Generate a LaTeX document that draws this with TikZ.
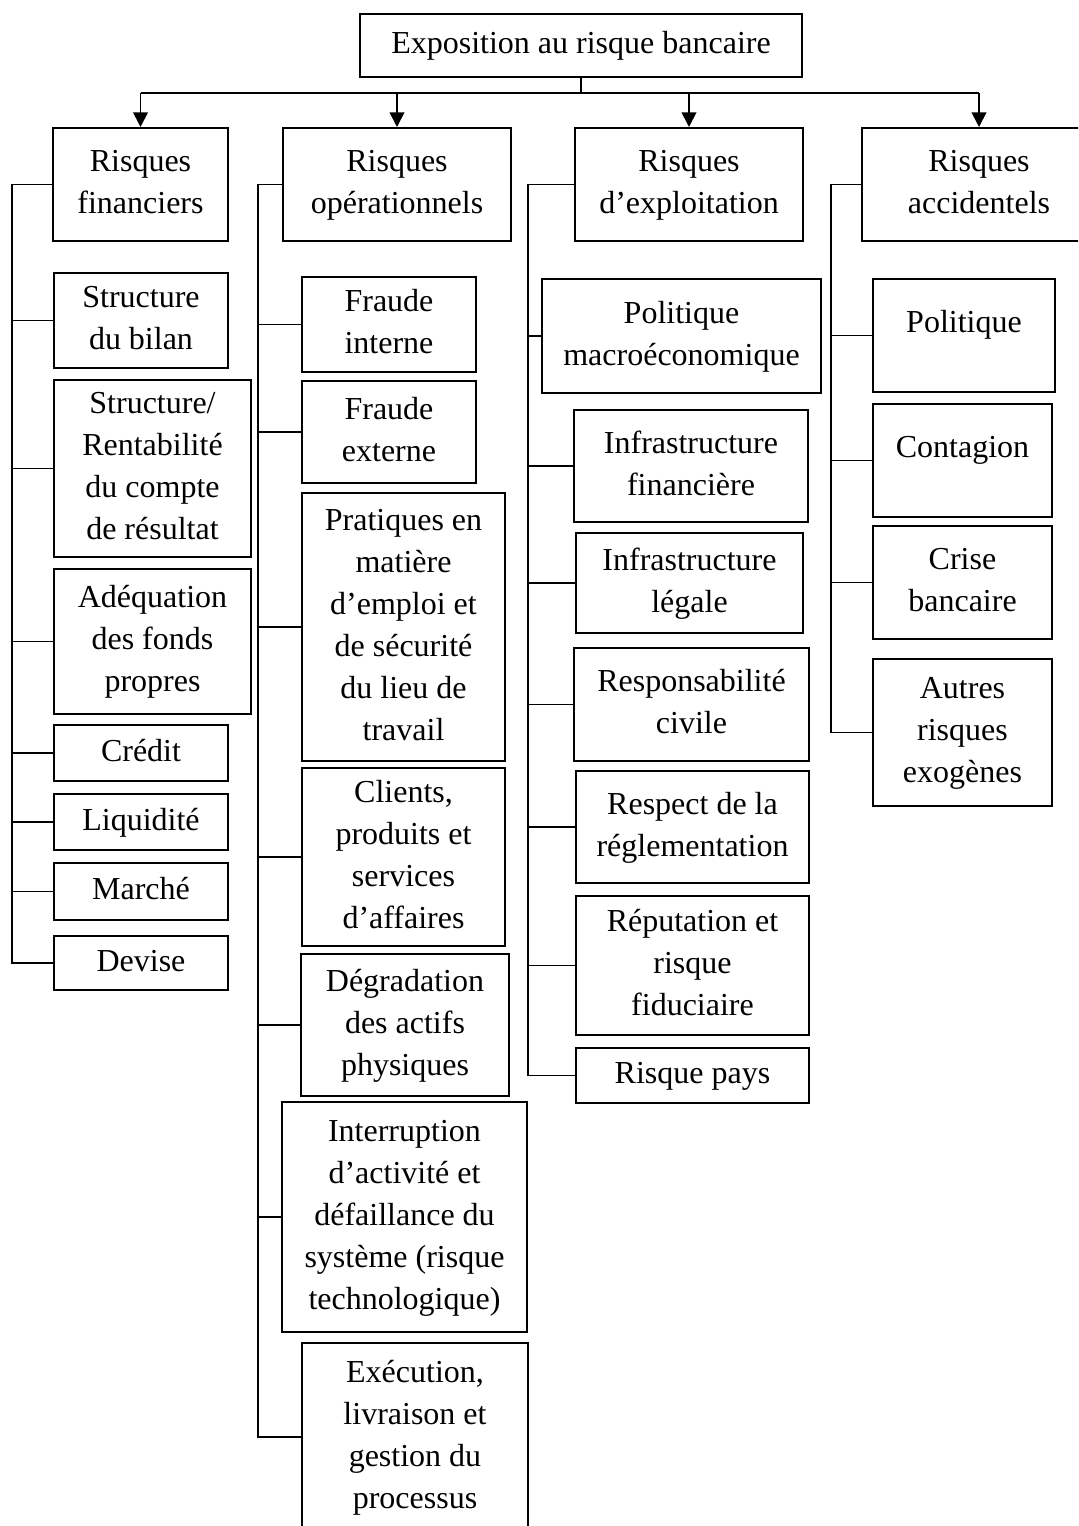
\documentclass[tikz,border=0pt]{standalone}
\usepackage{fontspec}
\setmainfont{Liberation Serif}
\usetikzlibrary{arrows.meta}
% centred block of lines, one per row
\newcommand\boxtext[1]{\begin{tabular}{@{}c@{}}#1\end{tabular}}
\begin{document}
\begin{tikzpicture}[x=0.75pt,y=-0.75pt,
  box/.style={draw, line width=1.5pt, inner sep=0pt,
    font={\fontsize{24pt}{31.5pt}\selectfont}},
  % box spanning the corners (#1,#2) and (#3,#4)
  span/.style n args={4}{at={({(#1+#3)/2},{(#2+#4)/2})},
    minimum width={(#3-#1)*0.75pt}, minimum height={(#4-#2)*0.75pt}},
  upper/.style={text height=16.5pt, text depth=21.75pt},
  conn/.style={line width=1.4pt},
  arr/.style={conn, -{Triangle[length=11pt,width=11pt]}}]
\useasboundingbox (0,0) rectangle (1078,1526);
\clip (0,0) rectangle (1078,1526);

% root and the four families of risk
\node[box, span={360}{14}{802}{77}] (top) {\boxtext{Exposition au risque bancaire}};
\node[box, span={53}{128}{228}{241}] (rf) {\boxtext{Risques\\financiers}};
\node[box, span={283}{128}{511}{241}] (ro) {\boxtext{Risques\\opérationnels}};
\node[box, span={575}{128}{803}{241}] (re) {\boxtext{Risques\\d’exploitation}};
\node[box, span={862}{128}{1096}{241}] (ra) {\boxtext{Risques\\accidentels}};

% financial risks
\node[box, span={54}{273}{228}{368}] (f1) {\boxtext{Structure\\du bilan}};
\node[box, span={54}{380}{251}{557}] (f2) {\boxtext{Structure/\\Rentabilité\\du compte\\de résultat}};
\node[box, span={54}{569}{251}{714}] (f3) {\boxtext{Adéquation\\des fonds\\propres}};
\node[box, span={54}{725}{228}{781}] (f4) {\boxtext{Crédit}};
\node[box, span={54}{794}{228}{850}] (f5) {\boxtext{Liquidité}};
\node[box, span={54}{863}{228}{920}] (f6) {\boxtext{Marché}};
\node[box, span={54}{936}{228}{990}] (f7) {\boxtext{Devise}};

% operational risks
\node[box, span={302}{277}{476}{372}] (o1) {\boxtext{Fraude\\interne}};
\node[box, span={302}{381}{476}{483}] (o2) {\boxtext{Fraude\\externe}};
\node[box, span={302}{493}{505}{761}] (o3) {\boxtext{Pratiques en\\matière\\d’emploi et\\de sécurité\\du lieu de\\travail}};
\node[box, span={302}{768}{505}{946}] (o4) {\boxtext{Clients,\\produits et\\services\\d’affaires}};
\node[box, span={301}{954}{509}{1096}] (o5) {\boxtext{Dégradation\\des actifs\\physiques}};
\node[box, span={282}{1102}{527}{1332}] (o6) {\boxtext{Interruption\\d’activité et\\défaillance du\\système (risque\\technologique)}};
\node[box, span={302}{1343}{528}{1531}] (o7) {\boxtext{Exécution,\\livraison et\\gestion du\\processus}};

% business risks
\node[box, span={542}{279}{821}{393}] (e1) {\boxtext{Politique\\macroéconomique}};
\node[box, span={574}{410}{808}{522}] (e2) {\boxtext{Infrastructure\\financière}};
\node[box, span={576}{533}{803}{633}] (e3) {\boxtext{Infrastructure\\légale}};
\node[box, span={574}{648}{809}{761}] (e4) {\boxtext{Responsabilité\\civile}};
\node[box, span={576}{771}{809}{883}] (e5) {\boxtext{Respect de la\\réglementation}};
\node[box, span={576}{896}{809}{1035}] (e6) {\boxtext{Réputation et\\risque\\fiduciaire}};
\node[box, span={576}{1048}{809}{1103}] (e7) {\boxtext{Risque pays}};

% accidental risks
\node[box, upper, span={873}{279}{1055}{392}] (a1) {Politique};
\node[box, upper, span={873}{404}{1052}{517}] (a2) {Contagion};
\node[box, span={873}{526}{1052}{639}] (a3) {\boxtext{Crise\\bancaire}};
\node[box, span={873}{659}{1052}{806}] (a4) {\boxtext{Autres\\risques\\exogènes}};

% distribution bar with arrows
\coordinate (bar) at (0,93);
\draw[conn] (top.south) -- (top.south |- bar);
\draw[conn] (rf.north |- bar) -- (ra.north |- bar);
\foreach \n in {rf,ro,re,ra} \draw[arr] (\n.north |- bar) -- (\n.north);

% side spines
\coordinate (sf) at (12,0);
\coordinate (so) at (258,0);
\coordinate (se) at (528,0);
\coordinate (sa) at (831,0);
\draw[conn] (rf.west) -- (rf.west -| sf) -- (f7.west -| sf) -- (f7.west);
\foreach \n in {f1,f2,f3,f4,f5,f6} \draw[conn] (\n.west -| sf) -- (\n.west);
\draw[conn] (ro.west) -- (ro.west -| so) -- (o7.west -| so) -- (o7.west);
\foreach \n in {o1,o2,o3,o4,o5,o6} \draw[conn] (\n.west -| so) -- (\n.west);
\draw[conn] (re.west) -- (re.west -| se) -- (e7.west -| se) -- (e7.west);
\foreach \n in {e1,e2,e3,e4,e5,e6} \draw[conn] (\n.west -| se) -- (\n.west);
\draw[conn] (ra.west) -- (ra.west -| sa) -- (a4.west -| sa) -- (a4.west);
\foreach \n in {a1,a2,a3} \draw[conn] (\n.west -| sa) -- (\n.west);
\end{tikzpicture}
\end{document}
